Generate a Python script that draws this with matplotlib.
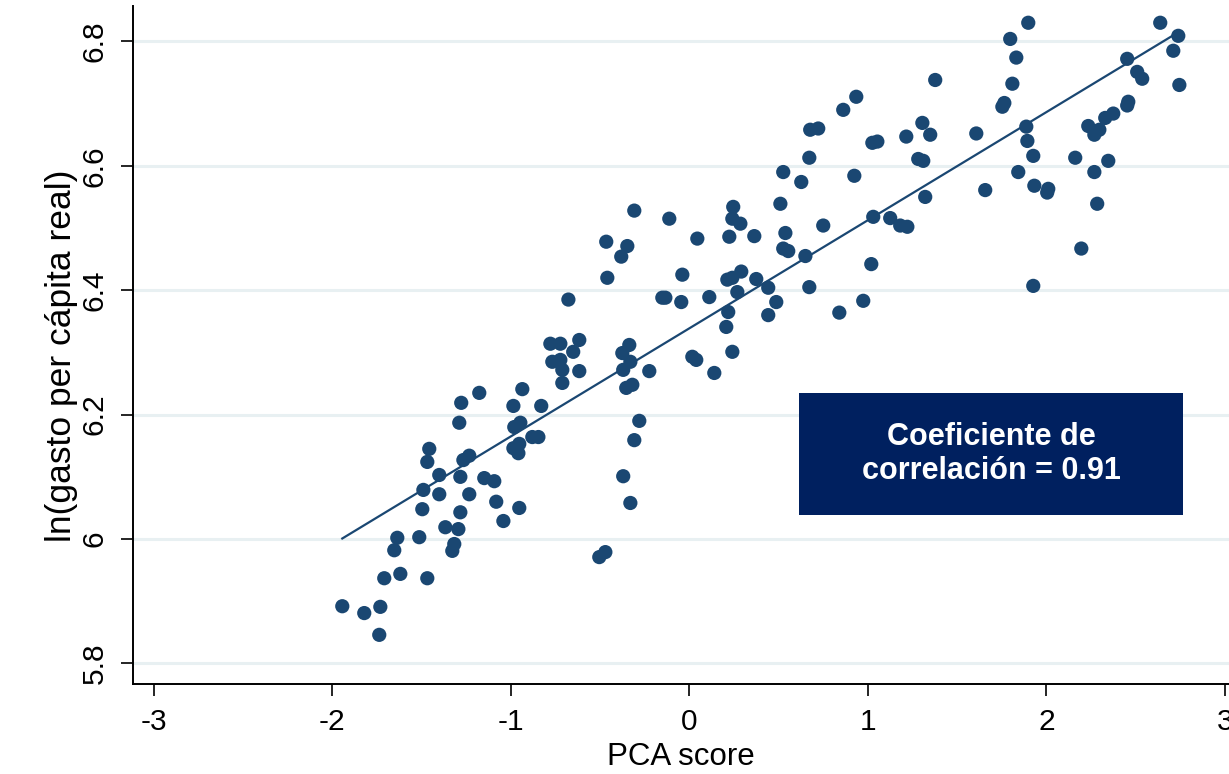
import numpy as np
import matplotlib
matplotlib.use("Agg")
import matplotlib.pyplot as plt
from matplotlib.patches import Rectangle

plt.rcParams["font.family"] = ["Liberation Sans", "DejaVu Sans"]
plt.rcParams["axes.unicode_minus"] = False

# PCA score (x) and ln(real per capita spending) (y)
pca_score = [
    -1.943, -1.820, -1.730, -1.736, -1.708, -1.618, -1.467, -1.635, -1.652, -1.512,
    -1.495, -1.489, -1.467, -1.456, -1.400, -1.400, -1.366, -1.293, -1.327, -1.316,
    -1.282, -1.282, -1.232, -1.265, -1.232, -1.148, -1.092, -1.081, -1.041, -0.952,
    -0.985, -0.952, -0.957, -1.277, -1.176, -1.288, -0.980, -0.946, -0.879, -0.845,
    -0.985, -0.829, -0.935, -0.778, -0.722, -0.616, -0.650, -0.767, -0.722, -0.711,
    -0.711, -0.616, -0.677, -0.465, -0.381, -0.347, -0.459, -0.308, -0.112, 0.045,
    -0.039, -0.151, -0.134, -0.045, 0.112, -0.375, -0.336, -0.370, -0.330, -0.224,
    -0.353, -0.319, -0.280, -0.308, -0.370, -0.330, -0.504, -0.470, 0.017, 0.039,
    0.140, 0.246, 0.241, 0.286, 0.224, 0.364, 0.213, 0.241, 0.291, 0.269,
    0.218, 0.207, 0.241, 0.375, 0.442, 0.487, 0.442, 0.526, 0.672, 0.627,
    0.510, 0.538, 0.526, 0.554, 0.650, 0.672, 0.750, 0.924, 0.677, 0.722,
    0.862, 0.935, 1.030, 1.125, 1.181, 1.221, 1.019, 0.974, 0.840, 1.025,
    1.053, 1.215, 1.305, 1.349, 1.377, 1.282, 1.310, 1.321, 1.607, 1.657,
    1.797, 1.898, 1.831, 1.809, 1.753, 1.764, 1.887, 1.893, 1.926, 1.842,
    1.932, 2.004, 2.010, 2.284, 2.195, 1.926, 2.161, 2.268, 2.346, 2.234,
    2.268, 2.296, 2.329, 2.374, 2.452, 2.458, 2.452, 2.508, 2.536, 2.637,
    2.738, 2.710, 2.744,
]
ln_gasto = [
    5.892, 5.881, 5.891, 5.846, 5.937, 5.944, 5.937, 6.002, 5.982, 6.003,
    6.048, 6.079, 6.124, 6.145, 6.103, 6.072, 6.019, 6.016, 5.981, 5.992,
    6.043, 6.100, 6.072, 6.127, 6.134, 6.098, 6.093, 6.060, 6.029, 6.050,
    6.146, 6.153, 6.138, 6.219, 6.235, 6.187, 6.180, 6.187, 6.164, 6.164,
    6.214, 6.214, 6.241, 6.314, 6.314, 6.320, 6.301, 6.285, 6.288, 6.272,
    6.251, 6.270, 6.385, 6.478, 6.454, 6.471, 6.420, 6.528, 6.515, 6.483,
    6.425, 6.388, 6.388, 6.381, 6.389, 6.299, 6.312, 6.272, 6.285, 6.270,
    6.243, 6.248, 6.190, 6.159, 6.101, 6.058, 5.971, 5.979, 6.293, 6.288,
    6.267, 6.534, 6.515, 6.507, 6.486, 6.487, 6.417, 6.420, 6.430, 6.397,
    6.365, 6.341, 6.301, 6.418, 6.404, 6.381, 6.360, 6.590, 6.613, 6.574,
    6.539, 6.492, 6.467, 6.463, 6.455, 6.405, 6.504, 6.584, 6.658, 6.660,
    6.690, 6.711, 6.518, 6.516, 6.504, 6.502, 6.442, 6.383, 6.364, 6.637,
    6.639, 6.647, 6.669, 6.650, 6.738, 6.611, 6.608, 6.550, 6.652, 6.561,
    6.804, 6.830, 6.774, 6.732, 6.695, 6.701, 6.663, 6.640, 6.616, 6.590,
    6.568, 6.557, 6.563, 6.539, 6.467, 6.407, 6.613, 6.590, 6.608, 6.664,
    6.650, 6.658, 6.677, 6.684, 6.697, 6.703, 6.772, 6.751, 6.740, 6.830,
    6.809, 6.785, 6.730,
]

x_ticks = [-3, -2, -1, 0, 1, 2, 3]
y_ticks = [5.8, 6.0, 6.2, 6.4, 6.6, 6.8]
y_tick_labels = ["5.8", "6", "6.2", "6.4", "6.6", "6.8"]
corr_text = "Coeficiente de\ncorrelación = 0.91"

dot_color = "#1a4772"
grid_color = "#e8f0f2"
box_color = "#00205f"

x = np.array(pca_score)
y = np.array(ln_gasto)

fig = plt.figure(figsize=(12.29, 7.74), dpi=100)
ax = fig.add_axes([0.1082, 0.1163, 0.8918, 0.876])

# horizontal grid lines
for t in y_ticks:
    ax.axhline(t, color=grid_color, linewidth=2.2, zorder=0)

ax.scatter(x, y, s=105, color=dot_color, edgecolors="none", zorder=3)

# linear fit over the range of the data
slope, intercept = np.polyfit(x, y, 1)
xs = np.array([x.min(), x.max()])
ax.plot(xs, intercept + slope * xs, color=dot_color, linewidth=1.6, zorder=2)

ax.set_xlim(-3.115, 3.022)
ax.set_ylim(5.767, 6.857)
ax.set_xticks(x_ticks)
ax.set_yticks(y_ticks)
ax.set_yticklabels(y_tick_labels, rotation=90, va="center")

ax.spines["top"].set_visible(False)
ax.spines["right"].set_visible(False)
for side in ["left", "bottom"]:
    ax.spines[side].set_linewidth(1.4)
ax.tick_params(axis="both", labelsize=21.5, width=1.2, length=8.5, color="black")
ax.tick_params(axis="x", pad=9)
ax.tick_params(axis="y", pad=9)

ax.set_xlabel("PCA score", fontsize=22.5, labelpad=4)
ax.set_ylabel("ln(gasto per cápita real)", fontsize=25.5)
ax.yaxis.set_label_coords(-0.05, 0.484)

# correlation box
ax.add_patch(Rectangle((0.6077, 0.249), 0.3503, 0.18, transform=ax.transAxes,
                       facecolor=box_color, edgecolor="none", zorder=4))
ax.text(0.783, 0.339, corr_text, transform=ax.transAxes, color="white",
        fontsize=22, fontweight="bold", ha="center", va="center",
        linespacing=1.2, zorder=5)

fig.savefig("out.png", dpi=100)
